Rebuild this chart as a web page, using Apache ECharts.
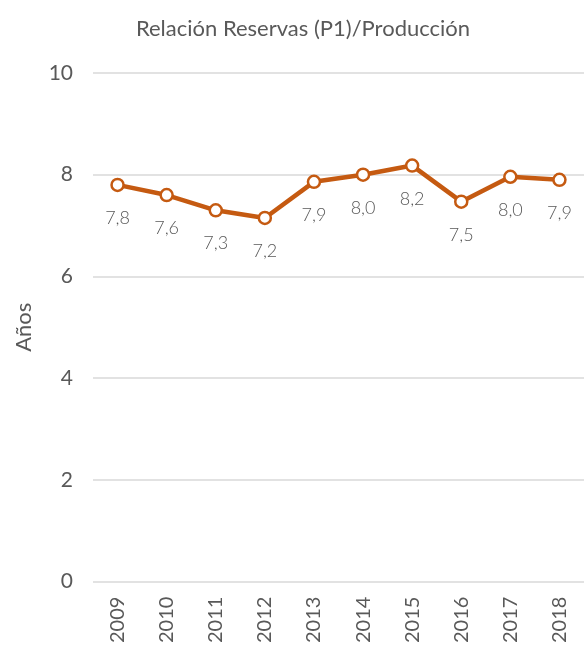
<!DOCTYPE html>
<html><head><meta charset="utf-8">
<script src="https://cdn.jsdelivr.net/npm/echarts@6/dist/echarts.min.js"></script>
<style>html,body{margin:0;padding:0;background:#fff}#c{width:584px;height:646px}</style>
</head><body><div id="c"></div>
<script>
const categories = ['2009','2010','2011','2012','2013','2014','2015','2016','2017','2018'];
const values = [7.8, 7.6, 7.3, 7.15, 7.86, 8.0, 8.18, 7.47, 7.96, 7.9];
const labelTexts = ['7,8','7,6','7,3','7,2','7,9','8,0','8,2','7,5','8,0','7,9'];
const yTicks = [0, 2, 4, 6, 8, 10];
const chart = echarts.init(document.getElementById('c'));
const font = 'Lato';
chart.setOption({
  animation: false,
  title: {text: 'Relación Reservas (P1)/Producción', left: 298, top: 13, textAlign: 'center',
    textStyle: {fontFamily: font, fontSize: 22, fontWeight: 'normal', color: '#595959'}},
  grid: {left: 93, top: 73, width: 499, bottom: 63},
  xAxis: {type: 'category', data: categories, boundaryGap: true,
    axisLine: {show: false}, axisTick: {show: false},
    axisLabel: {rotate: 90, fontFamily: font, fontSize: 20, color: '#595959', margin: 15}},
  yAxis: {type: 'value', min: 0, max: 10, interval: 2, name: 'Años', nameLocation: 'middle', nameGap: 58,
    nameTextStyle: {fontFamily: font, fontSize: 22, color: '#595959'},
    axisLabel: {fontFamily: font, fontSize: 21, color: '#595959', margin: 20,
      formatter: v => yTicks.includes(v) ? String(v) : ''},
    splitLine: {lineStyle: {color: '#d9d9d9', width: 1.5}}},
  series: [{type: 'line', data: values, symbol: 'circle', symbolSize: 12,
    lineStyle: {color: '#C55A11', width: 4.5},
    itemStyle: {color: '#ffffff', borderColor: '#C55A11', borderWidth: 2.5},
    label: {show: true, position: 'bottom', distance: 17, fontFamily: font, fontSize: 18, fontWeight: 300, color: '#595959',
      formatter: p => labelTexts[p.dataIndex]}}]
});
</script></body></html>
